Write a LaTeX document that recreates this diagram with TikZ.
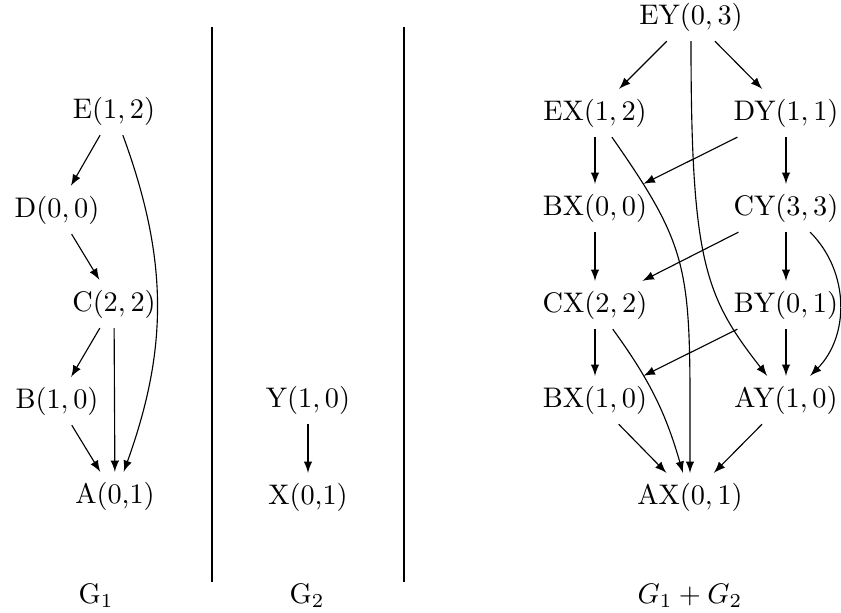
\documentclass[tikz,border=0pt]{standalone}
\begin{document}
\begin{tikzpicture}[x=0.3532pt,y=-0.3532pt,
  vtx/.style={inner sep=3.333pt},
  arr/.style={-latex},
  lbl/.style={anchor=base,inner sep=0pt}]
\useasboundingbox (0,0) rectangle (841,613);
% separators
\coordinate (s1t) at (212,27); \coordinate (s1b) at (212,582);
\coordinate (s2t) at (404,27); \coordinate (s2b) at (404,582);
\draw (s1t) -- (s1b);
\draw (s2t) -- (s2b);
% G1
\node[vtx] (E) at (114,111) {E$(1,2)$};
\node[vtx] (D) at (57,210) {D$(0,0)$};
\node[vtx] (C) at (114,304) {C$(2,2)$};
\node[vtx] (B) at (57,401) {B$(1,0)$};
\node[vtx] (A) at (115,496) {A(0,1)};
\node[lbl] (g1) at (96,603) {G$_1$};
\draw[arr] (E) -- (D);
\draw[arr] (D) -- (C);
\draw[arr] (C) -- (B);
\draw[arr] (B) -- (A);
\draw[arr] (C) -- (A);
\draw[arr] (E) to[bend left=20] (A);
% G2
\node[vtx] (Y) at (308,400) {Y$(1,0)$};
\node[vtx] (X) at (308,497) {X(0,1)};
\node[lbl] (g2) at (307,603) {G$_2$};
\draw[arr] (Y) -- (X);
% G1+G2
\node[vtx] (EY) at (691,17) {EY$(0,3)$};
\node[vtx] (EX) at (595,113) {EX$(1,2)$};
\node[vtx] (DY) at (786,113) {DY$(1,1)$};
\node[vtx] (DX) at (595,208) {BX$(0,0)$};
\node[vtx] (CY) at (786,208) {CY$(3,3)$};
\node[vtx] (CX) at (595,305) {CX$(2,2)$};
\node[vtx] (BY) at (786,305) {BY$(0,1)$};
\node[vtx] (BX) at (595,400) {BX$(1,0)$};
\node[vtx] (AY) at (786,400) {AY$(1,0)$};
\node[vtx] (AX) at (690,497) {AX$(0,1)$};
\node[lbl] (g12) at (690,603) {$G_1+G_2$};
\draw[arr] (EY) -- (EX);
\draw[arr] (EY) -- (DY);
\draw[arr] (EX) -- (DX);
\draw[arr] (DY) -- (DX);
\draw[arr] (DY) -- (CY);
\draw[arr] (DX) -- (CX);
\draw[arr] (CY) -- (CX);
\draw[arr] (CY) -- (BY);
\draw[arr] (CX) -- (BX);
\draw[arr] (BY) -- (BX);
\draw[arr] (BY) -- (AY);
\draw[arr] (BX) -- (AX);
\draw[arr] (AY) -- (AX);
\draw[arr] (EY) to[out=-90,in=128,out looseness=1.65,in looseness=0.75] (AY);
\draw[arr] (CY) to[bend left=45] (AY);
\draw[arr] (EX) to[out=-55,in=90,out looseness=1.07,in looseness=1.5] (AX);
\draw[arr] (CX) to[bend left=10] (AX);
\end{tikzpicture}
\end{document}
